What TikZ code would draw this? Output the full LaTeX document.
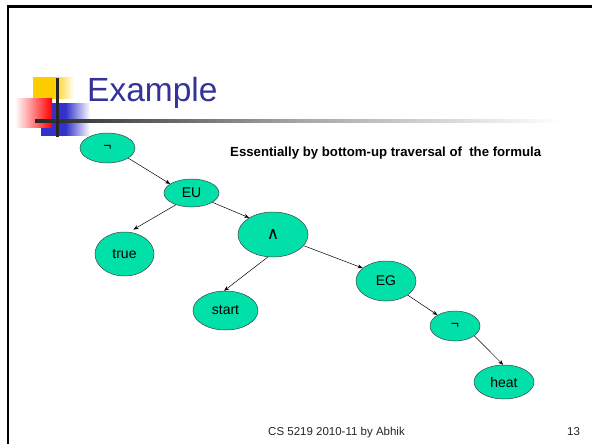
\documentclass[tikz,border=0pt]{standalone}
\usepackage{fontspec}
\setmainfont{Liberation Sans}
\newfontfamily\opfont{DejaVu Sans}
\usetikzlibrary{
    arrows.meta,
    shapes.geometric
}
\definecolor{leaf}{RGB}{0,224,168}
\definecolor{titleblue}{RGB}{51,51,153}
\definecolor{decoyellow}{RGB}{255,204,0}
\definecolor{decored}{RGB}{255,0,0}
\definecolor{decoblue}{RGB}{51,51,204}
\tikzset{fnode/.style={ellipse, draw=black!75, fill=leaf, inner sep=0pt, line width=0.5pt, font=\fontsize{14}{16}\selectfont}}
\tikzset{farrow/.style={-{Stealth[length=5pt, width=4pt]}, line width=0.5pt}}

\begin{document}
\begin{tikzpicture}[x=1pt, y=-1pt]
    \useasboundingbox (0, 0) rectangle (592, 444);
    \fill[white] (0, 0) rectangle (592, 444);

    % slide frame
    \draw[line width=2.5pt] (8, 444) -- (8, 6.5) -- (592, 6.5);

    % title decoration
    \shade[left color=decoyellow, right color=white, middle color=decoyellow] (33, 78) rectangle (74, 99);
    \shade[left color=decoblue, right color=white, middle color=decoblue] (41, 103) rectangle (90, 135);
    \shade[shading angle=45, left color=white, right color=decored] (15, 99) rectangle (52, 127);
    \shade[left color=black!85, right color=white, middle color=black!35] (35, 119.5) rectangle (562, 122.5);
    \fill[black!85] (55.5, 78) rectangle (58.5, 137);

    \node[anchor=base west, text=titleblue, font=\fontsize{33.5}{36}\selectfont, inner sep=0pt] (title) at (87, 101) {Example};

    \node[anchor=base west, font=\bfseries\fontsize{13.2}{15}\selectfont, inner sep=0pt] (note) at (230, 156) {Essentially by bottom-up traversal of\ \ the formula};

    % formula tree
    \node[fnode, minimum width=55pt, minimum height=30pt] (neg1) at (107.5, 148) {¬};
    \node[fnode, minimum width=55pt, minimum height=28pt] (eu) at (191.5, 193) {EU};
    \node[fnode, minimum width=59pt, minimum height=44pt] (true) at (124.5, 254) {true};
    \node[fnode, minimum width=70pt, minimum height=45pt] (and) at (273, 234.5) {\opfont\fontsize{17}{19}\selectfont ∧};
    \node[fnode, minimum width=65pt, minimum height=39pt] (start) at (225.5, 310.5) {start};
    \node[fnode, minimum width=60pt, minimum height=40pt] (eg) at (386, 281) {EG};
    \node[fnode, minimum width=50pt, minimum height=30pt] (neg2) at (455, 326) {¬};
    \node[fnode, minimum width=60pt, minimum height=34pt] (heat) at (504, 382) {heat};

    \draw[farrow] (neg1.-26) -- (eu.157);
    \draw[farrow, shorten >=5pt] (eu.-143) -- (true.78);
    \draw[farrow] (eu.-24) -- (and.145);
    \draw[farrow] (and.-103) -- (start.94);
    \draw[farrow] (and.-20) -- (eg.151);
    \draw[farrow] (eg.-33) -- (neg2.148);
    \draw[farrow] (neg2.-27) -- (heat.93);

    % footer
    \node[anchor=base west, text=black!85, font=\fontsize{11.5}{13}\selectfont, inner sep=0pt] (foot) at (268, 435) {CS 5219 2010-11 by Abhik};
    \node[anchor=base west, text=black!85, font=\fontsize{11.5}{13}\selectfont, inner sep=0pt] (page) at (567, 435) {13};
\end{tikzpicture}
\end{document}
